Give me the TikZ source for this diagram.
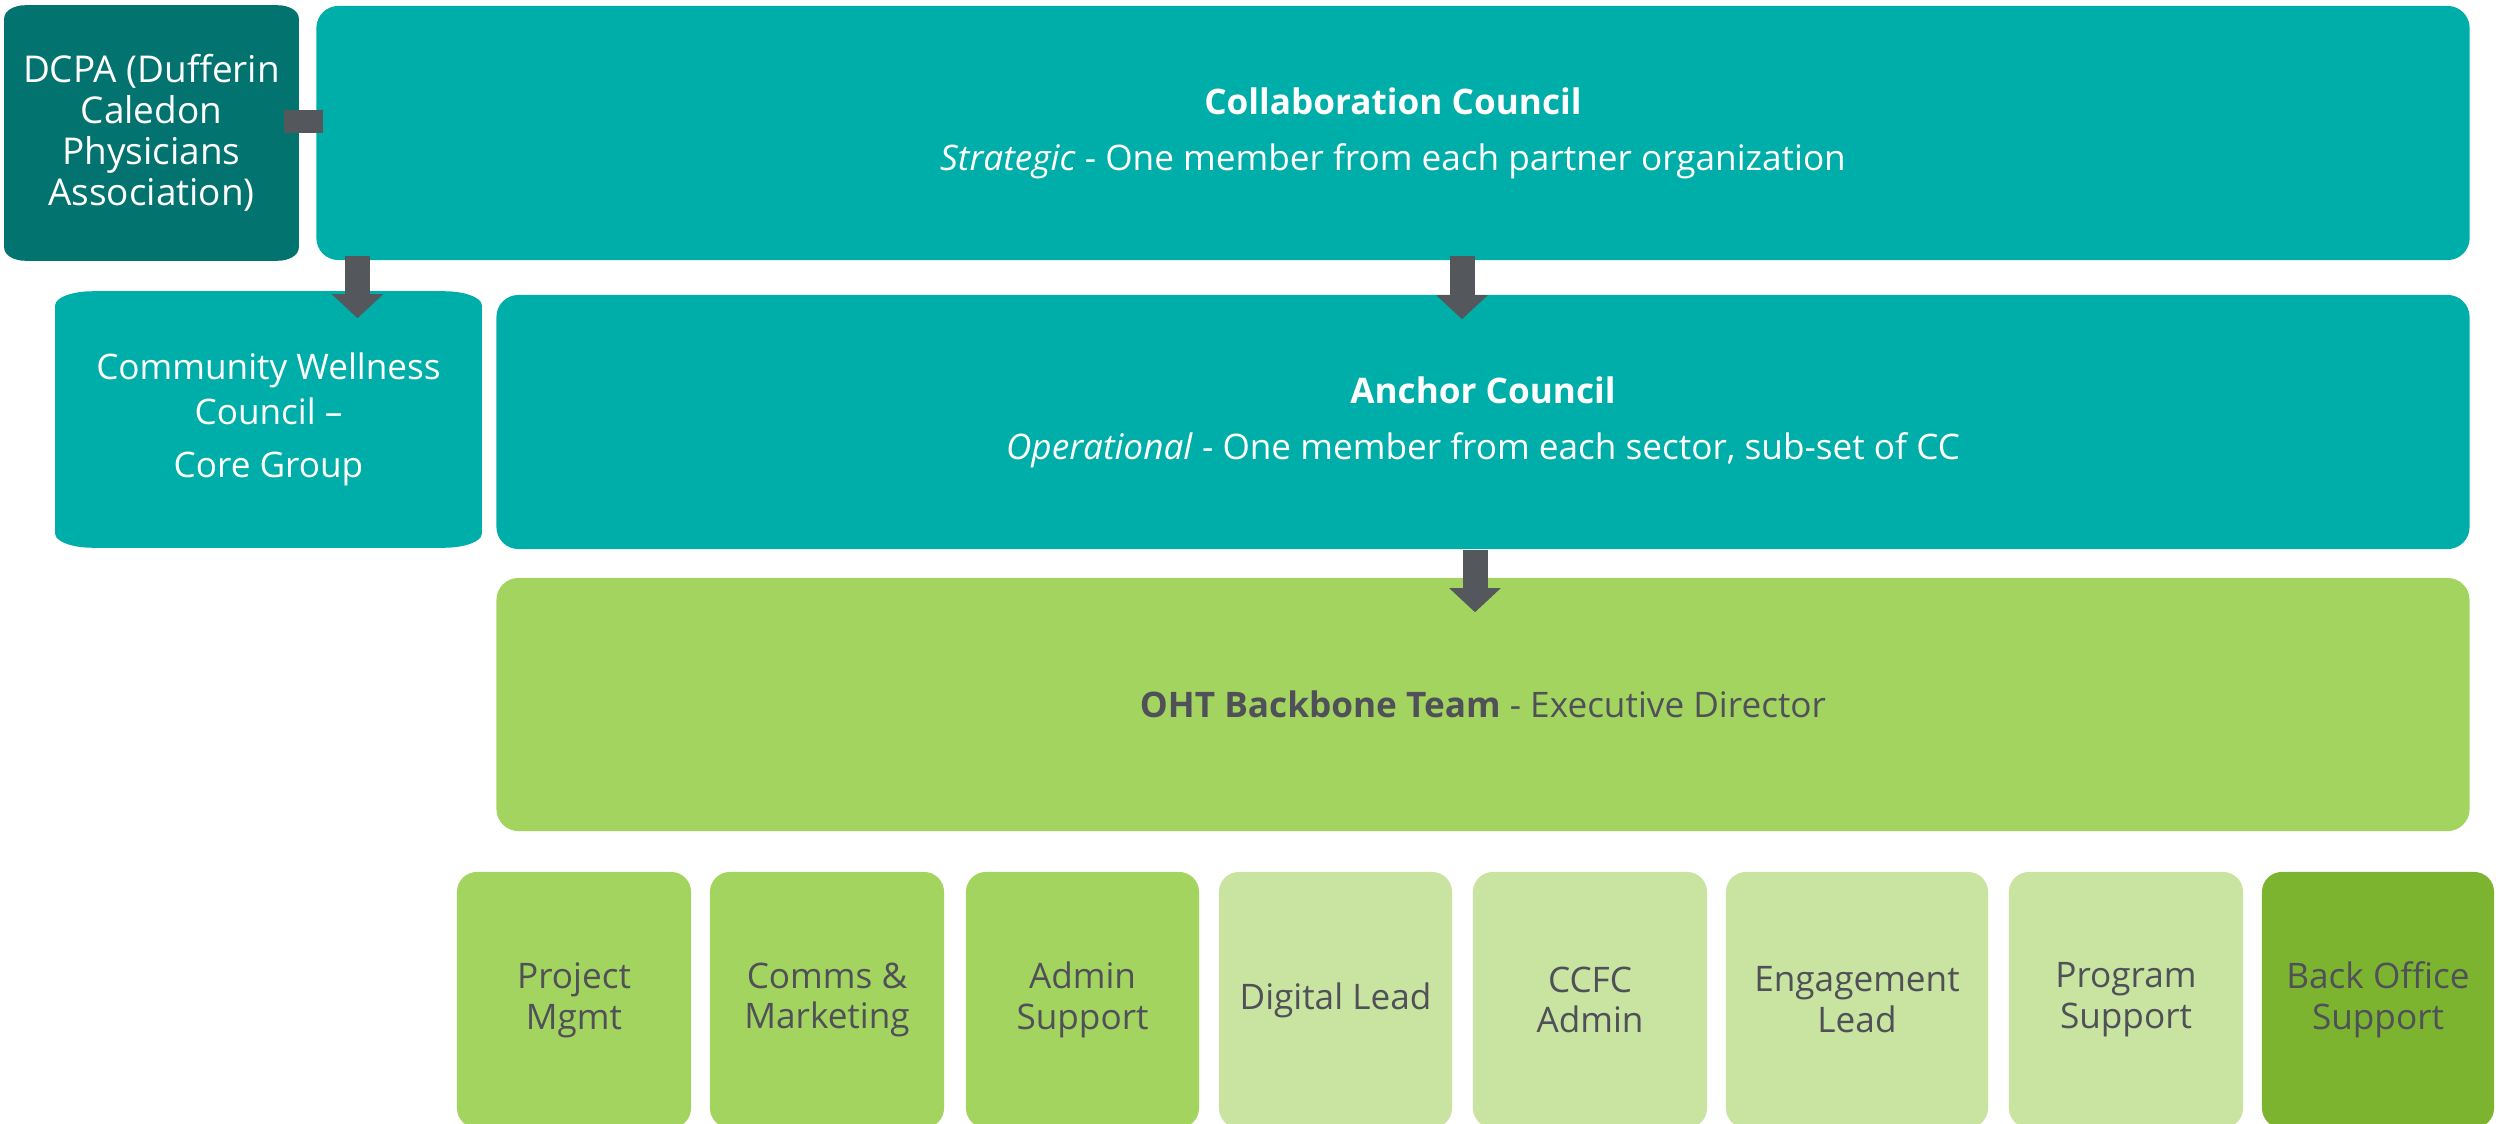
\documentclass[tikz,border=0pt]{standalone}
\usepackage{fontspec}
\setmainfont{Open Sans}
\usetikzlibrary{arrows.meta,calc,backgrounds}
\definecolor{dcpateal}{RGB}{3,115,112}
\definecolor{councilteal}{RGB}{0,174,169}
\definecolor{teamgreen}{RGB}{164,212,96}
\definecolor{palegreen}{RGB}{200,228,160}
\definecolor{officegreen}{RGB}{124,180,48}
\definecolor{arrowgrey}{RGB}{84,87,91}
\definecolor{textgrey}{RGB}{80,80,88}
\tikzset{
  council/.style={fill=councilteal, text=white, rounded corners=0.22cm, align=center, inner sep=0pt},
  role/.style={rounded corners=0.22cm, text=textgrey, align=center, minimum height=2.56cm, inner sep=0pt},
  downarrow/.style={draw=arrowgrey, line width=0.25cm, -{Triangle[width=0.5cm,length=0.24cm]}},
  sidebar/.style={draw=arrowgrey, line width=0.23cm}
}
\newcommand{\flatcorners}[4]{%
  \fill[#4] ([yshift=#3]#1.south west) -- ([yshift=-#3]#1.north west)
    arc[start angle=180, end angle=90, x radius=#2, y radius=#3]
    -- ([xshift=-#2]#1.north east)
    arc[start angle=90, end angle=0, x radius=#2, y radius=#3]
    -- ([yshift=#3]#1.south east)
    arc[start angle=0, end angle=-90, x radius=#2, y radius=#3]
    -- ([xshift=#2]#1.south west)
    arc[start angle=270, end angle=180, x radius=#2, y radius=#3] -- cycle;}

\begin{document}
\begin{tikzpicture}[x=0.01cm,y=-0.01cm,font=\fontsize{10}{11.6}\selectfont]
\useasboundingbox (0,0) rectangle (2496,1124);
\clip (0,0) rectangle (2496,1124);

\node[council, fill=none, minimum width=2.93cm, minimum height=2.54cm, font=\fontsize{10.5}{11.7}\selectfont] (dcpa) at (151.5,133)
  {DCPA (Dufferin\\Caledon\\Physicians\\Association)};
\node[council, minimum width=21.52cm, minimum height=2.54cm, font=\fontsize{10}{12}\selectfont] (cc) at (1393,133)
  {\textbf{Collaboration Council}\\[4pt]\textit{Strategic} - One member from each partner organization};
\node[council, fill=none, minimum width=4.25cm, minimum height=2.55cm, font=\fontsize{10}{12.7}\selectfont] (cwc) at (268.5,419.5)
  {Community Wellness\\Council --\\[2.3pt]Core Group};
\node[council, minimum width=19.72cm, minimum height=2.54cm, font=\fontsize{10}{12}\selectfont] (ac) at (1483,422)
  {\textbf{Anchor Council}\\[4pt]\textit{Operational} - One member from each sector, sub-set of CC};
\node[role, fill=teamgreen, minimum width=19.72cm, minimum height=2.53cm] (oht) at (1483,704.5)
  {\textbf{OHT Backbone Team} - Executive Director};

\foreach \nm/\cx/\bw/\fillc/\txt in {
  pm/574/2.34/teamgreen/{Project\\Mgmt},
  comms/827/2.34/teamgreen/{Comms \&\\Marketing},
  admin/1082.5/2.33/teamgreen/{Admin\\Support},
  digital/1335.5/2.33/palegreen/{Digital Lead},
  ccfc/1590/2.34/palegreen/{CCFC\\Admin},
  engage/1857/2.62/palegreen/{Engagement\\Lead},
  program/2126/2.34/palegreen/{Program\\Support},
  backoffice/2378/2.32/officegreen/{Back Office\\Support}}
  \node[role, fill=\fillc, minimum width=\bw cm, rounded corners=0.2cm] (\nm) at (\cx,1000) {\txt};

\begin{scope}[on background layer]
\flatcorners{dcpa}{0.21cm}{0.13cm}{dcpateal}
\flatcorners{cwc}{0.38cm}{0.14cm}{councilteal}
\end{scope}

\draw[sidebar, shorten <=-0.15cm, shorten >=-0.07cm] ([yshift=0.115cm]dcpa.east) -- ([yshift=0.115cm]cc.west);
\draw[downarrow, shorten <=-0.05cm, shorten >=-0.27cm] ($(cc.south -| cwc.north)+(89,0)$) -- ($(cwc.north)+(89,0)$);
\draw[downarrow, shorten <=-0.05cm, shorten >=-0.25cm] ($(cc.south -| ac.north)+(-21,0)$) -- ($(ac.north)+(-21,0)$);
\draw[downarrow, shorten >=-0.35cm] ($(ac.south)+(-8,0)$) -- ($(oht.north)+(-8,0)$);
\end{tikzpicture}
\end{document}
